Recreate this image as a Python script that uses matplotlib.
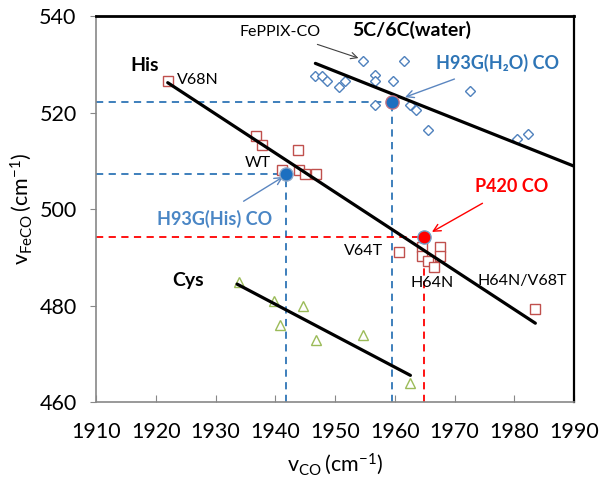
import matplotlib
matplotlib.use("Agg")
import matplotlib.pyplot as plt

plt.rcParams["font.family"] = ["Lato", "DejaVu Sans"]
plt.rcParams["mathtext.fontset"] = "custom"
plt.rcParams["mathtext.rm"] = "Lato"

# His (red open squares)
his_co = [1922.0, 1936.8, 1937.8, 1943.8, 1941.1, 1944.0, 1945.0, 1946.8,
          1960.7, 1964.6, 1964.6, 1965.6, 1966.6, 1967.6, 1967.6, 1983.5]
his_feco = [526.6, 515.2, 513.4, 512.2, 508.2, 508.2, 507.3, 507.3,
            491.2, 492.2, 490.3, 489.3, 488.1, 492.2, 490.3, 479.3]

# 5C/6C water (blue open diamonds)
water_co = [1946.7, 1947.8, 1948.7, 1950.7, 1951.7, 1954.7, 1956.7, 1956.7,
            1956.7, 1959.7, 1961.5, 1962.6, 1963.6, 1965.6, 1972.6, 1980.5, 1982.3]
water_feco = [527.5, 527.5, 526.5, 525.4, 526.5, 530.6, 527.7, 526.5,
              521.5, 526.5, 530.6, 521.5, 520.5, 516.5, 524.4, 514.6, 515.5]

# Cys (green open triangles)
cys_co = [1934.0, 1939.8, 1940.8, 1944.6, 1946.8, 1954.7, 1962.6]
cys_feco = [485.0, 481.0, 476.0, 480.0, 473.0, 474.0, 464.0]

# trend lines (end points)
his_fit_co, his_fit_feco = [1922.0, 1983.5], [526.2, 476.4]
water_fit_co, water_fit_feco = [1946.7, 1990.0], [530.2, 508.9]
cys_fit_co, cys_fit_feco = [1933.6, 1962.6], [484.5, 465.6]

# highlighted proteins
h93g_his = (1941.8, 507.3)
h93g_water = (1959.6, 522.3)
p420 = (1964.8, 494.2)

blue = "#2E75B6"
red = "#FF0000"

fig, ax = plt.subplots(figsize=(6.0, 4.86), dpi=100)
fig.subplots_adjust(left=0.16, right=0.957, top=0.967, bottom=0.172)

ax.set_xlim(1910, 1990)
ax.set_ylim(460, 540)

# dashed guide lines
for (x, y), c in [(h93g_water, blue), (h93g_his, blue), (p420, red)]:
    ax.plot([1910, x], [y, y], color=c, ls=(0, (4, 3)), lw=1.3, zorder=1)
    ax.plot([x, x], [460, y], color=c, ls=(0, (4, 3)), lw=1.3, zorder=1)

ax.plot(his_co, his_feco, ls="none", marker="s", ms=6.5, mfc="white",
        mec="#C0504D", mew=1.0, zorder=3)
ax.plot(water_co, water_feco, ls="none", marker="D", ms=5.3, mfc="white",
        mec="#4F81BD", mew=1.0, zorder=3)
ax.plot(cys_co, cys_feco, ls="none", marker="^", ms=7, mfc="white",
        mec="#9BBB59", mew=1.0, zorder=3)

for fx, fy in [(his_fit_co, his_fit_feco), (water_fit_co, water_fit_feco),
               (cys_fit_co, cys_fit_feco)]:
    ax.plot(fx, fy, color="black", lw=2.3, solid_capstyle="round", zorder=4)

ax.plot(*h93g_his, marker="o", ms=9.5, color="#1C6FC0", mec="#8FA8C8", zorder=5)
ax.plot(*h93g_water, marker="o", ms=9.5, color="#1C6FC0", mec="#C07080", zorder=5)
ax.plot(*p420, marker="o", ms=9.5, color=red, mec="#6FA0C8", zorder=5)

# labels
ax.text(1918.2, 529.8, "His", fontsize=14, fontweight="bold", ha="center", va="center")
ax.text(1925.4, 485.3, "Cys", fontsize=14, fontweight="bold", ha="center", va="center")
ax.text(1962.9, 537.1, "5C/6C(water)", fontsize=14, fontweight="bold", ha="center", va="center")
ax.text(1923.6, 526.8, "V68N", fontsize=11.5, ha="left", va="center")
ax.text(1937.1, 509.5, "WT", fontsize=11.5, ha="center", va="center")
ax.text(1958.0, 491.4, "V64T", fontsize=11.5, ha="right", va="center")
ax.text(1966.2, 484.7, "H64N", fontsize=11.5, ha="center", va="center")
ax.text(1981.3, 485.1, "H64N/V68T", fontsize=11.5, ha="center", va="center")

ax.annotate("FePPIX-CO", xy=(1953.9, 531.3), xytext=(1940.8, 536.7),
            fontsize=11.5, ha="center", va="center",
            arrowprops=dict(arrowstyle="->", color="#404040", lw=0.8,
                            shrinkA=6, shrinkB=0))
ax.annotate("H93G(H\u2082O) CO", xy=(1961.7, 523.2), xytext=(1977.1, 530.2),
            fontsize=13, fontweight="bold", color=blue, ha="center", va="center",
            arrowprops=dict(arrowstyle="->", color="#5B86C0", lw=1.0,
                            shrinkA=8, shrinkB=0))
ax.annotate("H93G(His) CO", xy=(1941.3, 506.7), xytext=(1929.9, 498.0),
            fontsize=13, fontweight="bold", color="#4A86C5", ha="center", va="center",
            arrowprops=dict(arrowstyle="->", color="#5B86C0", lw=1.0,
                            shrinkA=8, shrinkB=0))
ax.annotate("P420 CO", xy=(1966.2, 495.3), xytext=(1979.6, 504.7),
            fontsize=13, fontweight="bold", color=red, ha="center", va="center",
            arrowprops=dict(arrowstyle="->", color=red, lw=1.0,
                            shrinkA=8, shrinkB=0))

ax.set_xticks(range(1910, 1991, 10))
ax.set_yticks(range(460, 541, 20))
ax.tick_params(axis="x", direction="in", length=5, color="#888888",
               labelsize=15.5, pad=14)
ax.tick_params(axis="y", direction="out", length=4, color="#888888",
               labelsize=15.5, pad=10)

ax.spines["left"].set_color("#888888")
ax.spines["bottom"].set_color("#888888")
ax.spines["left"].set_linewidth(1.2)
ax.spines["bottom"].set_linewidth(1.2)
ax.spines["top"].set_color("black")
ax.spines["top"].set_linewidth(2.0)
ax.spines["right"].set_color("black")
ax.spines["right"].set_linewidth(1.6)

ax.set_xlabel(r"$\mathregular{v_{CO}\,(cm^{-1})}$", fontsize=15.5, labelpad=7)
ax.set_ylabel(r"$\mathregular{v_{FeCO}\,(cm^{-1})}$", fontsize=15.5, labelpad=4)

fig.savefig("out.png", dpi=100)
